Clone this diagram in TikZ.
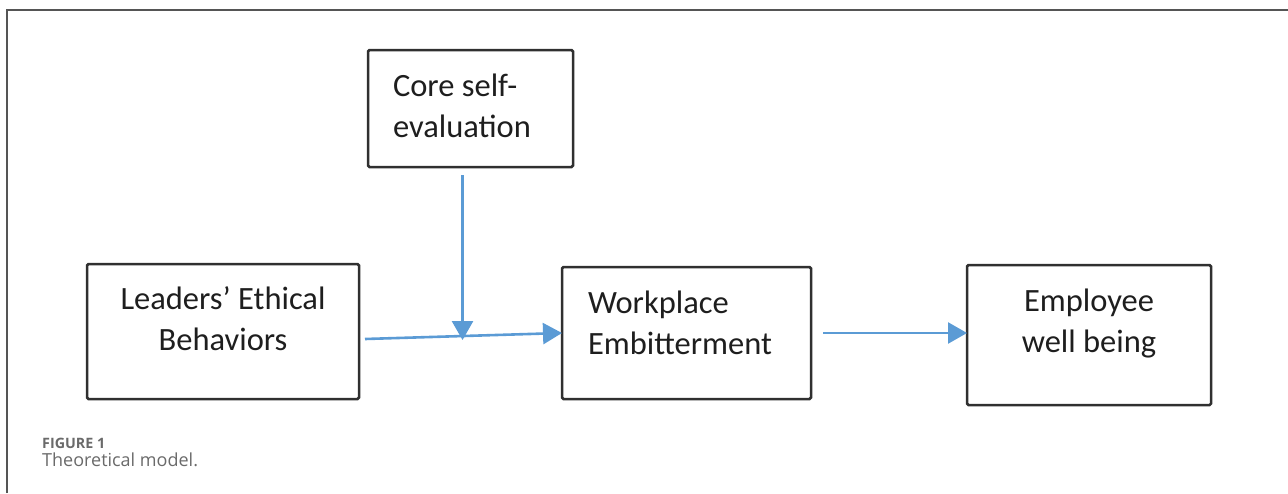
\documentclass[tikz,border=0pt]{standalone}
\usepackage{fontspec}
\setmainfont{Carlito}
\newfontfamily\capfont{Open Sans}
\usetikzlibrary{arrows.meta,calc}
\definecolor{arrblue}{HTML}{5B9BD5}
\definecolor{boxline}{HTML}{303030}
\definecolor{framecol}{HTML}{555555}
\definecolor{capgray}{HTML}{6A6A6A}
\definecolor{txtcol}{HTML}{1E1E1E}
\begin{document}
\begin{tikzpicture}[x=1pt,y=-1pt,
  modelbox/.style={draw=boxline,line width=2.5pt,rounded corners=1.5pt,inner sep=0pt,outer sep=0pt},
  boxtext/.style={font=\fontsize{32.5}{41}\selectfont,text=txtcol,inner sep=0pt,outer sep=0pt},
  arr/.style={draw=arrblue,line width=2.6pt,-{Triangle[length=19pt,width=21pt]}},
  captitle/.style={font=\capfont\bfseries\fontsize{14.3}{17}\selectfont,text=capgray,inner sep=0pt,anchor=base west},
  captext/.style={font=\capfont\fontsize{18}{21}\selectfont,text=capgray,inner sep=0pt,anchor=base west}]
\useasboundingbox (0,0) rectangle (1288,493);
% outer frame
\draw[framecol,line width=1.4pt] (7,493) -- (7,10) -- (1288,10);
% boxes
\node[modelbox,minimum width=205pt,minimum height=117pt] (core) at (470.5,108.5) {};
\node[modelbox,minimum width=272pt,minimum height=135pt] (leaders) at (223,331.5) {};
\node[modelbox,minimum width=249pt,minimum height=132pt] (work) at (686.5,333) {};
\node[modelbox,minimum width=244pt,minimum height=140pt] (employee) at (1089,335) {};
% labels (base anchor = baseline of the last line)
\node[boxtext,align=left,anchor=base west] (coreT) at (393,137) {Core self-\\evaluation};
\node[boxtext,align=center,anchor=base] (leadersT) at (223,350) {Leaders’ Ethical\\Behaviors};
\node[boxtext,align=left,anchor=base west] (workT) at (588,354) {Workplace\\Embitterment};
\node[boxtext,align=center,anchor=base] (employeeT) at (1089,352) {Employee\\well being};
% connectors
\coordinate (a1) at (365,339);
\coordinate (m) at ($(a1)!0.495!(work.west)$);
\coordinate (c1) at ($(m |- core.south)+(0,8)$);
\coordinate (a3) at (823,333);
\draw[arr] (a1) -- (work.west);
\draw[arr] (c1) -- ($(m)+(0,4)$);
\draw[arr] (a3) -- (a3 -| employee.west);
% caption
\node[captitle] (figlabel) at (42,448) {FIGURE 1};
\node[captext] (figcap) at (42,466) {Theoretical model.};
\end{tikzpicture}
\end{document}
